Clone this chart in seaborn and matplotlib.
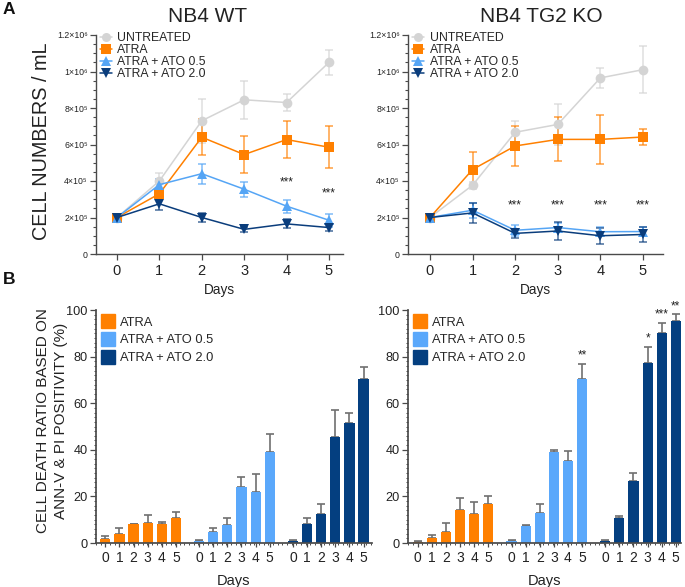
import numpy as np
import pandas as pd
import matplotlib
matplotlib.use("Agg")
import matplotlib.pyplot as plt
import seaborn as sns
from matplotlib.ticker import FixedLocator, AutoMinorLocator, MultipleLocator
from matplotlib.lines import Line2D

# ---------------- data ----------------
days = [0, 1, 2, 3, 4, 5]
treatments = ["UNTREATED", "ATRA", "ATRA + ATO 0.5", "ATRA + ATO 2.0"]

# Panel A - NB4 WT (cells / mL), mean and SD
wt_untreated = [2.0e5, 4.0e5, 7.3e5, 8.45e5, 8.3e5, 10.5e5]
wt_untreated_err = [0.1e5, 0.45e5, 1.2e5, 1.05e5, 0.46e5, 0.7e5]
wt_atra = [2.0e5, 3.3e5, 6.4e5, 5.45e5, 6.27e5, 5.85e5]
wt_atra_err = [0.1e5, 0.2e5, 1.0e5, 1.0e5, 1.0e5, 1.15e5]
wt_ato05 = [2.0e5, 3.8e5, 4.4e5, 3.55e5, 2.62e5, 1.85e5]
wt_ato05_err = [0.1e5, 0.3e5, 0.55e5, 0.42e5, 0.35e5, 0.35e5]
wt_ato20 = [2.0e5, 2.75e5, 2.0e5, 1.35e5, 1.65e5, 1.45e5]
wt_ato20_err = [0.1e5, 0.35e5, 0.25e5, 0.15e5, 0.25e5, 0.2e5]

# Panel A - NB4 TG2 KO
ko_untreated = [2.0e5, 3.77e5, 6.67e5, 7.1e5, 9.65e5, 10.1e5]
ko_untreated_err = [0.1e5, 0.2e5, 0.6e5, 1.1e5, 0.55e5, 1.3e5]
ko_atra = [2.0e5, 4.63e5, 5.92e5, 6.28e5, 6.28e5, 6.41e5]
ko_atra_err = [0.1e5, 0.95e5, 1.1e5, 1.2e5, 1.35e5, 0.45e5]
ko_ato05 = [2.0e5, 2.4e5, 1.3e5, 1.45e5, 1.22e5, 1.23e5]
ko_ato05_err = [0.1e5, 0.42e5, 0.3e5, 0.27e5, 0.25e5, 0.25e5]
ko_ato20 = [2.0e5, 2.25e5, 1.13e5, 1.26e5, 1.0e5, 1.07e5]
ko_ato20_err = [0.1e5, 0.55e5, 0.25e5, 0.5e5, 0.45e5, 0.4e5]

# significance marks (day, label, height anchor)
wt_sig_days = [4, 5]
wt_sig_labels = ["***", "***"]
wt_sig_y = [3.9e5, 3.3e5]
ko_sig_days = [2, 3, 4, 5]
ko_sig_labels = ["***", "***", "***", "***"]
ko_sig_y = [2.65e5, 2.65e5, 2.65e5, 2.65e5]

ytick_vals = [0, 2e5, 4e5, 6e5, 8e5, 1e6, 1.2e6]
ytick_labels = ["0", "2×10⁵", "4×10⁵", "6×10⁵", "8×10⁵", "1×10⁶", "1.2×10⁶"]

# Panel B - cell death (%)
death_groups = ["ATRA", "ATRA + ATO 0.5", "ATRA + ATO 2.0"]
wt_death_atra = [1.7, 4.0, 8.0, 8.6, 8.0, 10.7]
wt_death_atra_err = [1.2, 2.4, 0.2, 3.3, 1.0, 2.7]
wt_death_ato05 = [0.7, 4.9, 7.7, 24.0, 22.0, 39.1]
wt_death_ato05_err = [0.4, 1.7, 3.0, 4.4, 7.4, 7.6]
wt_death_ato20 = [0.7, 8.0, 12.4, 45.6, 51.7, 70.3]
wt_death_ato20_err = [0.6, 2.6, 4.3, 11.4, 4.0, 5.3]

ko_death_atra = [0.4, 2.0, 4.6, 14.3, 12.6, 16.9]
ko_death_atra_err = [0.3, 1.4, 3.8, 5.1, 4.8, 3.1]
ko_death_ato05 = [0.7, 7.3, 13.0, 39.1, 35.1, 70.6]
ko_death_ato05_err = [0.6, 0.6, 3.9, 1.0, 4.3, 6.4]
ko_death_ato20 = [0.7, 10.9, 26.7, 77.1, 90.0, 95.1]
ko_death_ato20_err = [0.7, 0.8, 3.3, 7.2, 4.6, 3.0]

# significance for KO death (group, day, label)
ko_death_sig = [("ATRA + ATO 0.5", 5, "**"), ("ATRA + ATO 2.0", 3, "*"),
                ("ATRA + ATO 2.0", 4, "***"), ("ATRA + ATO 2.0", 5, "**")]

# ---------------- styling ----------------
line_colors = {"UNTREATED": "#d4d4d4", "ATRA": "#ff8000",
               "ATRA + ATO 0.5": "#55a5f5", "ATRA + ATO 2.0": "#0a3d7c"}
line_markers = {"UNTREATED": "o", "ATRA": "s", "ATRA + ATO 0.5": "^", "ATRA + ATO 2.0": "v"}
bar_colors = {"ATRA": "#ff8000", "ATRA + ATO 0.5": "#5aa8fb", "ATRA + ATO 2.0": "#043f80"}
AX = "#4a4a4a"
TXT = "#222222"

sns.set_theme(style="ticks")
plt.rcParams["font.family"] = ["Liberation Sans", "DejaVu Sans"]
plt.rcParams["axes.edgecolor"] = AX
plt.rcParams["xtick.color"] = AX
plt.rcParams["ytick.color"] = AX
plt.rcParams["xtick.labelcolor"] = TXT
plt.rcParams["ytick.labelcolor"] = TXT

W, H = 685, 587
fig = plt.figure(figsize=(W / 100, H / 100), dpi=100)


def rect(l, r, t, b):
    return [l / W, 1 - b / H, (r - l) / W, (b - t) / H]


def line_panel(ax, vals, errs, xlim, sig_days, sig_labels, sig_y):
    rows = []
    for tr, v, e in zip(treatments, vals, errs):
        for d, vv, ee in zip(days, v, e):
            rows.append({"Day": d, "Cells": vv, "Err": ee, "Treatment": tr})
    df = pd.DataFrame(rows)
    for tr in treatments:
        sub = df[df.Treatment == tr]
        ax.errorbar(sub.Day, sub.Cells, yerr=sub.Err, fmt="none",
                    ecolor=line_colors[tr], alpha=0.75, elinewidth=1.1,
                    capsize=3.2, capthick=1.1, zorder=2)
    sns.lineplot(data=df, x="Day", y="Cells", hue="Treatment", style="Treatment",
                 hue_order=treatments, style_order=treatments,
                 palette=line_colors, markers=line_markers, dashes=False,
                 markersize=7, markeredgewidth=0, linewidth=1.1,
                 legend=False, ax=ax, zorder=3)
    for d, lab, y in zip(sig_days, sig_labels, sig_y):
        ax.text(d, y, lab, ha="center", va="center", fontsize=8.5, color=TXT)
    ax.set_xlim(*xlim)
    ax.set_ylim(0, 1.2e6)
    ax.yaxis.set_major_locator(FixedLocator(ytick_vals))
    ax.set_yticklabels(ytick_labels, fontsize=6.3)
    ax.yaxis.set_minor_locator(AutoMinorLocator(4))
    ax.set_xticks(days)
    ax.set_xticklabels([str(d) for d in days], fontsize=10.5)
    ax.tick_params(axis="y", which="major", length=4, width=0.9, pad=2)
    ax.tick_params(axis="y", which="minor", length=2, width=0.8)
    ax.tick_params(axis="x", which="major", length=4, width=0.9, pad=3)
    ax.set_xlabel("Days", fontsize=9.8, color=TXT, labelpad=3.5)
    ax.set_ylabel("")
    sns.despine(ax=ax)
    for s in ["left", "bottom"]:
        ax.spines[s].set_linewidth(1.0)
    handles = [Line2D([], [], color=line_colors[t], marker=line_markers[t],
                      markersize=6.5, markeredgewidth=0, linewidth=1.1) for t in treatments]
    ax.legend(handles, treatments, loc="upper left", bbox_to_anchor=(0.015, 1.012),
              frameon=False, fontsize=8.8, handlelength=1.0, handletextpad=0.45,
              labelspacing=0.0, borderpad=0.0, borderaxespad=0.0)


OFFSET = 6.65


def bar_panel(ax, vals, errs, xlim, sigs=()):
    rows = []
    for g, (gr, v, e) in enumerate(zip(death_groups, vals, errs)):
        for d, vv, ee in zip(days, v, e):
            rows.append({"pos": round(g * OFFSET + d, 3), "Death": vv, "Err": ee,
                         "Group": gr, "Day": d})
    df = pd.DataFrame(rows)
    sns.barplot(data=df, x="pos", y="Death", hue="Group", hue_order=death_groups,
                palette=bar_colors, native_scale=True, dodge=False, width=0.72,
                errorbar=None, saturation=1, linewidth=0, legend=False, ax=ax, zorder=2)
    ax.errorbar(df.pos, df.Death, yerr=[np.zeros(len(df)), df.Err], fmt="none",
                ecolor="#707070", elinewidth=1.2, capsize=3, capthick=1.2, zorder=1)
    for gr, d, lab in sigs:
        r = df[(df.Group == gr) & (df.Day == d)].iloc[0]
        ax.text(r.pos, r.Death + r.Err + 0.8, lab, ha="center", va="bottom",
                fontsize=8.5, color=TXT)
    ax.set_xlim(*xlim)
    ax.set_ylim(0, 100)
    ax.set_xticks(list(df.pos))
    ax.set_xticklabels([str(d) for d in df.Day], fontsize=10)
    ax.set_yticks([0, 20, 40, 60, 80, 100])
    ax.set_yticklabels(["0", "20", "40", "60", "80", "100"], fontsize=9.2)
    ax.yaxis.set_minor_locator(AutoMinorLocator(10))
    ax.xaxis.set_minor_locator(MultipleLocator(0.33))
    ax.tick_params(axis="y", which="major", length=4, width=0.9, pad=2)
    ax.tick_params(axis="y", which="minor", length=1.8, width=0.7)
    ax.tick_params(axis="x", which="major", length=3, width=0.9, pad=3)
    ax.tick_params(axis="x", which="minor", length=1.5, width=0.7)
    ax.set_xlabel("Days", fontsize=10.5, color=TXT, labelpad=6.5)
    ax.set_ylabel("")
    sns.despine(ax=ax)
    handles = [Line2D([], [], color=bar_colors[g], marker="s", markersize=10,
                      linestyle="none") for g in death_groups]
    ax.legend(handles, death_groups, loc="upper left", bbox_to_anchor=(0.02, 0.972),
              frameon=False, fontsize=9.3, handlelength=1.0, handletextpad=0.4,
              labelspacing=0.45, borderpad=0.0, borderaxespad=0.0)


ax1 = fig.add_axes(rect(96, 343, 35, 254))
line_panel(ax1, [wt_untreated, wt_atra, wt_ato05, wt_ato20],
           [wt_untreated_err, wt_atra_err, wt_ato05_err, wt_ato20_err],
           (-0.494, 5.33), wt_sig_days, wt_sig_labels, wt_sig_y)

ax2 = fig.add_axes(rect(408, 663, 35, 254))
line_panel(ax2, [ko_untreated, ko_atra, ko_ato05, ko_ato20],
           [ko_untreated_err, ko_atra_err, ko_ato05_err, ko_ato20_err],
           (-0.516, 5.47), ko_sig_days, ko_sig_labels, ko_sig_y)

ax3 = fig.add_axes(rect(96, 372, 310, 543))
bar_panel(ax3, [wt_death_atra, wt_death_ato05, wt_death_ato20],
          [wt_death_atra_err, wt_death_ato05_err, wt_death_ato20_err],
          (-0.66, 18.9))

ax4 = fig.add_axes(rect(408, 681, 310, 543))
bar_panel(ax4, [ko_death_atra, ko_death_ato05, ko_death_ato20],
          [ko_death_atra_err, ko_death_ato05_err, ko_death_ato20_err],
          (-0.69, 18.67), ko_death_sig)

# titles, panel letters and shared labels
fig.text(208 / W, 1 - 16 / H, "NB4 WT", ha="center", va="center", fontsize=15, color=TXT)
fig.text(541.7 / W, 1 - 16 / H, "NB4 TG2 KO", ha="center", va="center", fontsize=15, color=TXT)
fig.text(9 / W, 1 - 9.5 / H, "A", ha="center", va="center", fontsize=12.5,
         fontweight="bold", color="#111111")
fig.text(9 / W, 1 - 280 / H, "B", ha="center", va="center", fontsize=12.5,
         fontweight="bold", color="#111111")
fig.text(42 / W, 1 - 141 / H, "CELL NUMBERS / mL", rotation=90, ha="center",
         va="center", fontsize=14.3, color=TXT)
fig.text(52 / W, 1 - 421 / H, "CELL DEATH RATIO BASED ON\nANN-V & PI POSITIVITY (%)",
         rotation=90, ha="center", va="center", fontsize=11, color=TXT,
         linespacing=1.3, multialignment="center")

fig.savefig("out.png", dpi=100)
